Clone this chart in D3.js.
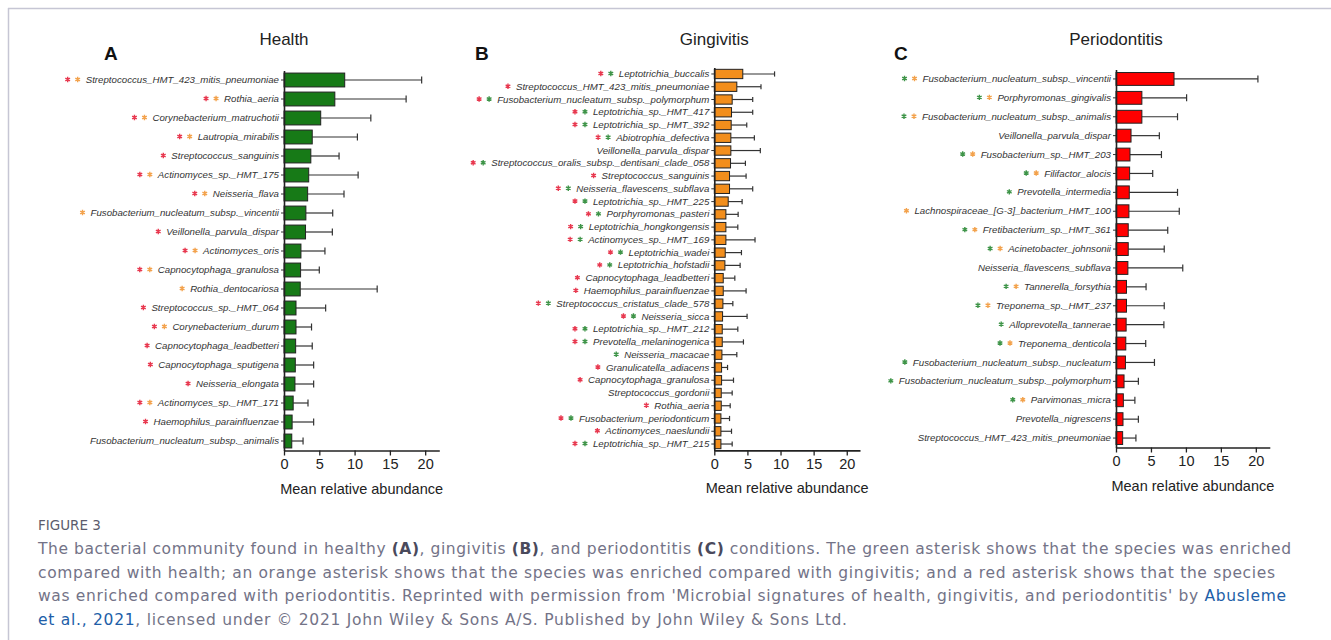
<!DOCTYPE html>
<html>
<head>
<meta charset="utf-8">
<script src="https://cdn.jsdelivr.net/npm/d3@7"></script>
<style>
  body { margin: 0; background: #fff; }
  svg { display: block; }
</style>
</head>
<body>
<script>
// ---- data (mean, SD, and significance asterisks) ----
// stars: r = red (vs periodontitis), o = orange (vs gingivitis), g = green (vs health)
var healthLabels = ["Streptococcus_HMT_423_mitis_pneumoniae", "Rothia_aeria", "Corynebacterium_matruchotii",
  "Lautropia_mirabilis", "Streptococcus_sanguinis", "Actinomyces_sp._HMT_175", "Neisseria_flava",
  "Fusobacterium_nucleatum_subsp._vincentii", "Veillonella_parvula_dispar", "Actinomyces_oris",
  "Capnocytophaga_granulosa", "Rothia_dentocariosa", "Streptococcus_sp._HMT_064", "Corynebacterium_durum",
  "Capnocytophaga_leadbetteri", "Capnocytophaga_sputigena", "Neisseria_elongata", "Actinomyces_sp._HMT_171",
  "Haemophilus_parainfluenzae", "Fusobacterium_nucleatum_subsp._animalis"];
var healthMeans = [8.6, 7.2, 5.2, 4.0, 3.8, 3.5, 3.35, 3.1, 3.05, 2.4, 2.35, 2.3, 1.7, 1.7, 1.65, 1.6, 1.55, 1.3, 1.15, 1.1];
var healthSD = [10.9, 10.1, 7.1, 6.4, 4.0, 7.0, 5.15, 3.8, 3.8, 3.4, 2.65, 10.9, 4.2, 2.2, 2.35, 2.6, 2.65, 2.1, 3.05, 1.6];
var healthStars = ["ro", "ro", "ro", "ro", "r", "ro", "ro", "o", "r", "ro", "ro", "o", "r", "ro", "r", "r", "r", "ro", "r", ""];

var gingLabels = ["Leptotrichia_buccalis", "Streptococcus_HMT_423_mitis_pneumoniae",
  "Fusobacterium_nucleatum_subsp._polymorphum", "Leptotrichia_sp._HMT_417", "Leptotrichia_sp._HMT_392",
  "Abiotrophia_defectiva", "Veillonella_parvula_dispar", "Streptococcus_oralis_subsp._dentisani_clade_058",
  "Streptococcus_sanguinis", "Neisseria_flavescens_subflava", "Leptotrichia_sp._HMT_225",
  "Porphyromonas_pasteri", "Leptotrichia_hongkongensis", "Actinomyces_sp._HMT_169", "Leptotrichia_wadei",
  "Leptotrichia_hofstadii", "Capnocytophaga_leadbetteri", "Haemophilus_parainfluenzae",
  "Streptococcus_cristatus_clade_578", "Neisseria_sicca", "Leptotrichia_sp._HMT_212",
  "Prevotella_melaninogenica", "Neisseria_macacae", "Granulicatella_adiacens", "Capnocytophaga_granulosa",
  "Streptococcus_gordonii", "Rothia_aeria", "Fusobacterium_periodonticum", "Actinomyces_naeslundii",
  "Leptotrichia_sp._HMT_215"];
var gingMeans = [4.3, 3.4, 2.7, 2.6, 2.55, 2.5, 2.5, 2.45, 2.3, 2.3, 2.1, 1.75, 1.75, 1.75, 1.65,
  1.6, 1.35, 1.35, 1.3, 1.25, 1.2, 1.2, 1.15, 1.1, 1.1, 1.05, 1.05, 1.0, 1.0, 1.0];
var gingSD = [4.8, 3.65, 3.1, 3.2, 2.35, 3.55, 4.45, 2.25, 2.5, 3.5, 2.1, 1.85, 1.8, 4.4, 2.45,
  2.3, 1.75, 3.45, 1.5, 3.7, 2.35, 3.2, 2.25, 0.9, 1.8, 1.65, 1.35, 1.3, 1.6, 1.7];
var gingStars = ["rg", "r", "rg", "rg", "rg", "rg", "", "rg", "r", "rg", "rg", "rg", "rg", "rg", "rg",
  "rg", "r", "r", "rg", "rg", "rg", "rg", "g", "r", "r", "", "r", "rg", "r", "rg"];

var perioLabels = ["Fusobacterium_nucleatum_subsp._vincentii", "Porphyromonas_gingivalis",
  "Fusobacterium_nucleatum_subsp._animalis", "Veillonella_parvula_dispar", "Fusobacterium_sp._HMT_203",
  "Filifactor_alocis", "Prevotella_intermedia", "Lachnospiraceae_[G-3]_bacterium_HMT_100",
  "Fretibacterium_sp._HMT_361", "Acinetobacter_johnsonii", "Neisseria_flavescens_subflava",
  "Tannerella_forsythia", "Treponema_sp._HMT_237", "Alloprevotella_tannerae", "Treponema_denticola",
  "Fusobacterium_nucleatum_subsp._nucleatum", "Fusobacterium_nucleatum_subsp._polymorphum",
  "Parvimonas_micra", "Prevotella_nigrescens", "Streptococcus_HMT_423_mitis_pneumoniae"];
var perioMeans = [8.3, 3.7, 3.7, 2.15, 2.0, 1.95, 1.9, 1.85, 1.75, 1.75, 1.7, 1.5, 1.5, 1.45, 1.4, 1.35, 1.15, 1.05, 1.0, 0.95];
var perioSD = [12.0, 6.4, 5.1, 4.05, 4.5, 3.3, 6.9, 7.2, 5.65, 5.15, 7.85, 2.8, 5.4, 5.4, 2.85, 4.15, 2.05, 1.65, 2.2, 1.9];
var perioStars = ["go", "go", "go", "", "go", "go", "g", "o", "go", "go", "", "go", "go", "g", "go", "g", "g", "go", "", ""];

var xTicks = [0, 5, 10, 15, 20];
var starColors = { r: "#e8384f", o: "#f3a24c", g: "#3e9448" };

var svg = d3.select("body").append("svg")
  .attr("width", 1331)
  .attr("height", 640);

// light frame line, top and left
svg.append("line").attr("x1", 8).attr("x2", 1331).attr("y1", 8.5).attr("y2", 8.5)
  .attr("stroke", "#c6c6d4").attr("stroke-width", 1.5);
svg.append("line").attr("x1", 8.5).attr("x2", 8.5).attr("y1", 8).attr("y2", 640)
  .attr("stroke", "#c6c6d4").attr("stroke-width", 1.5);

function drawPanel(p) {
  var g = svg.append("g");
  var data = p.labels.map(function (d, i) {
    return { name: d, mean: p.means[i], sd: p.sd[i], stars: p.stars[i] };
  });

  var x = d3.scaleLinear().domain([0, 22]).range([p.x0, p.x1]);
  var y = d3.scaleBand().domain(p.labels).range([p.top, p.bottom])
    .paddingInner(p.pad).paddingOuter(p.pad / 2);
  var bw = y.bandwidth();

  // error bars (mean -> mean + SD) with end caps
  var err = g.append("g").attr("stroke", "#333").attr("stroke-width", 1.2);
  err.selectAll("line.e").data(data).enter().append("line").attr("class", "e")
    .attr("x1", function (d) { return x(d.mean); })
    .attr("x2", function (d) { return x(d.mean + d.sd); })
    .attr("y1", function (d) { return y(d.name) + bw / 2; })
    .attr("y2", function (d) { return y(d.name) + bw / 2; });
  err.selectAll("line.c").data(data).enter().append("line").attr("class", "c")
    .attr("x1", function (d) { return x(d.mean + d.sd); })
    .attr("x2", function (d) { return x(d.mean + d.sd); })
    .attr("y1", function (d) { return y(d.name) + bw / 2 - p.cap; })
    .attr("y2", function (d) { return y(d.name) + bw / 2 + p.cap; });

  g.selectAll("rect").data(data).enter().append("rect")
    .attr("x", x(0))
    .attr("y", function (d) { return y(d.name); })
    .attr("width", function (d) { return x(d.mean) - x(0); })
    .attr("height", bw)
    .attr("fill", p.fill)
    .attr("stroke", "#222")
    .attr("stroke-width", 1);

  var yAxis = g.append("g")
    .attr("transform", "translate(" + x(0) + ",0)")
    .call(d3.axisLeft(y).tickSize(3).tickPadding(2).tickSizeOuter(0));
  yAxis.select(".domain").attr("stroke", "#222").attr("stroke-width", 1.6);
  yAxis.selectAll(".tick line").attr("stroke", "#333");
  yAxis.selectAll(".tick text")
    .attr("font-family", "'Liberation Sans', Arial, sans-serif")
    .attr("font-style", "italic")
    .attr("font-size", "9.7px")
    .attr("fill", "#333");

  var xAxis = g.append("g")
    .attr("transform", "translate(0," + p.bottom + ")")
    .call(d3.axisBottom(x).tickValues(xTicks).tickSize(5).tickPadding(3).tickSizeOuter(0));
  xAxis.select(".domain").attr("stroke", "#222").attr("stroke-width", 1.6);
  xAxis.selectAll(".tick line").attr("stroke", "#222").attr("stroke-width", 1.3);
  xAxis.selectAll(".tick text")
    .attr("font-family", "'Liberation Sans', Arial, sans-serif")
    .attr("font-size", "14.5px")
    .attr("fill", "#222");

  // asterisks in front of each label
  var star = d3.symbol().type(d3.symbolAsterisk).size(20)();
  yAxis.selectAll(".tick").each(function (name, i) {
    var tick = d3.select(this);
    var w = tick.select("text").node().getComputedTextLength();
    var start = -5 - w;
    var s = data[i].stars.split("");
    s.forEach(function (c, k) {
      tick.append("path")
        .attr("d", star)
        .attr("transform", "translate(" + (start - 8 - (s.length - 1 - k) * 10) + ",-0.5)")
        .attr("fill", "none")
        .attr("stroke", starColors[c])
        .attr("stroke-width", 1.4);
    });
  });

  svg.append("text")
    .attr("x", x(0)).attr("y", 45)
    .attr("text-anchor", "middle")
    .attr("font-family", "'Liberation Sans', Arial, sans-serif")
    .attr("font-size", "17px")
    .attr("fill", "#222")
    .text(p.title);

  svg.append("text")
    .attr("x", p.letterX).attr("y", 60)
    .attr("font-family", "'Liberation Sans', Arial, sans-serif")
    .attr("font-size", "19px")
    .attr("font-weight", "bold")
    .attr("fill", "#111")
    .text(p.letter);

  svg.append("text")
    .attr("x", x(11)).attr("y", p.bottom + 43)
    .attr("text-anchor", "middle")
    .attr("font-family", "'Liberation Sans', Arial, sans-serif")
    .attr("font-size", "14.5px")
    .attr("fill", "#222")
    .text("Mean relative abundance");
}

drawPanel({ labels: healthLabels, means: healthMeans, sd: healthSD, stars: healthStars,
  fill: "#177a17", x0: 284, x1: 439.3, top: 70.5, bottom: 450.5, pad: 0.27, cap: 3.5,
  title: "Health", letter: "A", letterX: 104 });
drawPanel({ labels: gingLabels, means: gingMeans, sd: gingSD, stars: gingStars,
  fill: "#f28e1c", x0: 714.3, x1: 860, top: 67.6, bottom: 450.4, pad: 0.27, cap: 2.6,
  title: "Gingivitis", letter: "B", letterX: 475 });
drawPanel({ labels: perioLabels, means: perioMeans, sd: perioSD, stars: perioStars,
  fill: "#ff0000", x0: 1116, x1: 1269.8, top: 69.5, bottom: 447.5, pad: 0.32, cap: 3.5,
  title: "Periodontitis", letter: "C", letterX: 894 });

// ---- caption ----
var captionFont = "'DejaVu Sans', 'Noto Sans', sans-serif";
svg.append("text")
  .attr("x", 38).attr("y", 530)
  .attr("font-family", captionFont)
  .attr("font-size", "13.5px")
  .attr("fill", "#5c5c6c")
  .text("FIGURE 3");

var captionLines = [
  [["The bacterial community found in healthy ", ""], ["(A)", "b"], [", gingivitis ", ""], ["(B)", "b"],
   [", and periodontitis ", ""], ["(C)", "b"], [" conditions. The green asterisk shows that the species was enriched", ""]],
  [["compared with health; an orange asterisk shows that the species was enriched compared with gingivitis; and a red asterisk shows that the species", ""]],
  [["was enriched compared with periodontitis. Reprinted with permission from 'Microbial signatures of health, gingivitis, and periodontitis' by ", ""], ["Abusleme", "a"]],
  [["et al., 2021", "a"], [", licensed under \u00a9 2021 John Wiley & Sons A/S. Published by John Wiley & Sons Ltd.", ""]]
];
var captionWidths = [1253, 1237, 1248, 809];

captionLines.forEach(function (line, i) {
  var t = svg.append("text")
    .attr("x", 38).attr("y", 554 + i * 23.5)
    .attr("font-family", captionFont)
    .attr("font-size", "15.5px")
    .attr("fill", "#737387")
    .attr("textLength", captionWidths[i])
    .attr("lengthAdjust", "spacing");
  line.forEach(function (seg) {
    var ts = t.append("tspan").text(seg[0]);
    if (seg[1] === "b") ts.attr("font-weight", 700).attr("fill", "#4a4a5c");
    if (seg[1] === "a") ts.attr("fill", "#215ea8");
  });
});
</script>
</body>
</html>
